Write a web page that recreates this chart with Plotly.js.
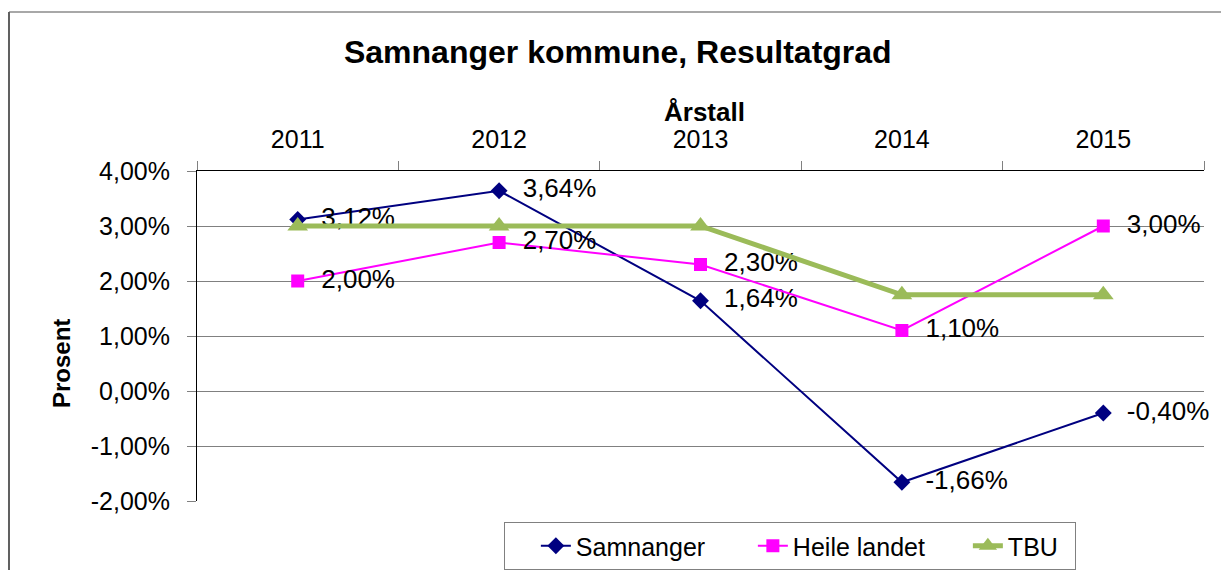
<!DOCTYPE html>
<html><head><meta charset="utf-8">
<script src="https://cdn.plot.ly/plotly-3.0.1.min.js"></script>
<style>body{margin:0;background:#fff}#c{width:1221px;height:570px}</style>
</head><body><div id="c"></div>
<script>
const years = ['2011','2012','2013','2014','2015'];
const samnanger = [3.12, 3.64, 1.64, -1.66, -0.40];
const heileLandet = [2.00, 2.70, 2.30, 1.10, 3.00];
const tbu = [3.00, 3.00, 3.00, 1.75, 1.75];
const yTickVals = [-2, -1, 0, 1, 2, 3, 4];
const yTickText = ['-2,00%', '-1,00%', '0,00%', '1,00%', '2,00%', '3,00%', '4,00%'];

const F = 'Liberation Sans, Arial, sans-serif';
const LBL = '\u00a0\u00a0%{y:.2f}%';
const traces = [
  {x: years, y: samnanger, name: 'Samnanger', type: 'scatter', mode: 'lines+markers+text', cliponaxis: false,
   legendwidth: 172,
   line: {color: '#000080', width: 2}, marker: {symbol: 'diamond', size: 13, color: '#000080'},
   texttemplate: LBL, textposition: 'middle right', textfont: {family: F, size: 26, color: '#000'}},
  {x: years, y: heileLandet, name: 'Heile landet', type: 'scatter', mode: 'lines+markers+text', cliponaxis: false,
   legendwidth: 170,
   line: {color: '#FF00FF', width: 2}, marker: {symbol: 'square', size: 13, color: '#FF00FF'},
   texttemplate: LBL, textposition: 'middle right', textfont: {family: F, size: 26, color: '#000'}},
  {x: years, y: tbu, name: 'TBU', type: 'scatter', mode: 'lines+markers', cliponaxis: false,
   legendwidth: 62,
   line: {color: '#9BBB59', width: 5}, marker: {symbol: 'triangle-up', size: 18, color: '#9BBB59'}}
];
// paper region: x 197..1204, y 171..570 ; plot y-domain bottom at 501
const layout = {
  width: 1221, height: 570,
  margin: {l: 197, r: 17, t: 171, b: 0},
  paper_bgcolor: '#fff', plot_bgcolor: '#fff',
  separators: ',.',
  font: {family: F, size: 25, color: '#000'},
  title: {text: '<b>Samnanger kommune, Resultatgrad</b>', font: {family: F, size: 32, color: '#000'},
          x: 0.506, xanchor: 'center', y: 0.909, yanchor: 'middle'},
  xaxis: {type: 'category', range: [-0.5, 4.5], side: 'top', showline: true, linecolor: '#000', linewidth: 1,
          ticks: 'outside', tickson: 'boundaries', ticklen: 9, tickcolor: '#808080',
          ticklabelstandoff: 12,
          showgrid: false, zeroline: false, tickfont: {family: F, size: 25}},
  yaxis: {range: [-2, 4], domain: [0.1729, 1], tickmode: 'array', tickvals: yTickVals, ticktext: yTickText,
          showline: true, linecolor: '#000', linewidth: 1, ticks: 'outside', ticklen: 9, tickcolor: '#808080',
          ticklabelstandoff: 12,
          showgrid: true, gridcolor: '#808080', gridwidth: 1, zeroline: false,
          tickfont: {family: F, size: 25}},
  showlegend: true,
  legend: {orientation: 'h', x: 0.5889, xanchor: 'center', y: 0, yanchor: 'bottom',
           bordercolor: '#808080', borderwidth: 1, font: {family: F, size: 25},
           title: {text: '\u00a0\u00a0\u00a0', font: {family: F, size: 25}},
           tracegroupgap: 0},
  annotations: [
    {text: '<b>Årstall</b>', xref: 'paper', yref: 'paper', x: 0.5035, y: 1.148,
     xanchor: 'center', yanchor: 'middle', showarrow: false, font: {family: F, size: 26}},
    {text: '<b>Prosent</b>', xref: 'paper', yref: 'paper', x: -0.134, y: 0.5163, textangle: -90,
     xanchor: 'center', yanchor: 'middle', showarrow: false, font: {family: F, size: 24}}
  ],
  shapes: [
    {type: 'line', xref: 'paper', yref: 'paper', x0: -0.1867, x1: 1.1, y0: 1.3985, y1: 1.3985,
     line: {color: '#a8a8a8', width: 2}},
    {type: 'line', xref: 'paper', yref: 'paper', x0: -0.1867, x1: -0.1867, y0: -0.1, y1: 1.3985,
     line: {color: '#606060', width: 2}}
  ]
};
Plotly.newPlot('c', traces, layout, {displayModeBar: false, staticPlot: true});
</script></body></html>
